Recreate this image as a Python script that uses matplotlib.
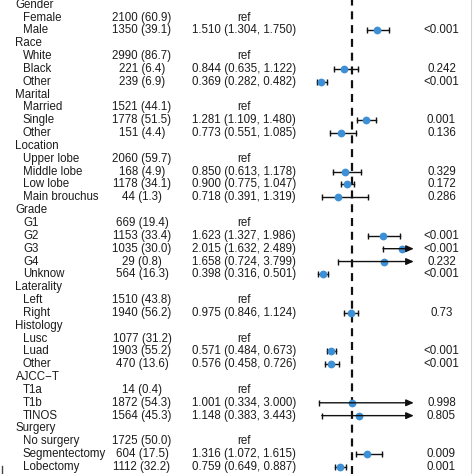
import numpy as np
import matplotlib
matplotlib.use("Agg")
import matplotlib.pyplot as plt
from matplotlib.lines import Line2D

plt.rcParams['font.family'] = ['Liberation Sans', 'DejaVu Sans']

# dane
labels = ["Gender", "Female", "Male",
          "Race", "White", "Black", "Other",
          "Marital", "Married", "Single", "Other",
          "Location", "Upper lobe", "Middle lobe", "Low lobe", "Main brouchus",
          "Grade", "G1", "G2", "G3", "G4", "Unknow",
          "Laterality", "Left", "Right",
          "Histology", "Lusc", "Luad", "Other",
          "AJCC\u2212T", "T1a", "T1b", "TINOS",
          "Surgery", "No surgery", "Segmentectomy", "Lobectomy"]
naglowki = [0, 3, 7, 11, 16, 22, 25, 29, 33]

counts = [None, 2100, 1350, None, 2990, 221, 239, None, 1521, 1778, 151,
          None, 2060, 168, 1178, 44, None, 669, 1153, 1035, 29, 564,
          None, 1510, 1940, None, 1077, 1903, 470, None, 14, 1872, 1564,
          None, 1725, 604, 1112]
pct = [None, 60.9, 39.1, None, 86.7, 6.4, 6.9, None, 44.1, 51.5, 4.4,
       None, 59.7, 4.9, 34.1, 1.3, None, 19.4, 33.4, 30.0, 0.8, 16.3,
       None, 43.8, 56.2, None, 31.2, 55.2, 13.6, None, 0.4, 54.3, 45.3,
       None, 50.0, 17.5, 32.2]

# "ref" = kategoria referencyjna
hr = [None, "ref", 1.510, None, "ref", 0.844, 0.369, None, "ref", 1.281, 0.773,
      None, "ref", 0.850, 0.900, 0.718, None, "ref", 1.623, 2.015, 1.658, 0.398,
      None, "ref", 0.975, None, "ref", 0.571, 0.576, None, "ref", 1.001, 1.148,
      None, "ref", 1.316, 0.759]
lo = [None, None, 1.304, None, None, 0.635, 0.282, None, None, 1.109, 0.551,
      None, None, 0.613, 0.775, 0.391, None, None, 1.327, 1.632, 0.724, 0.316,
      None, None, 0.846, None, None, 0.484, 0.458, None, None, 0.334, 0.383,
      None, None, 1.072, 0.649]
hi = [None, None, 1.750, None, None, 1.122, 0.482, None, None, 1.480, 1.085,
      None, None, 1.178, 1.047, 1.319, None, None, 1.986, 2.489, 3.799, 0.501,
      None, None, 1.124, None, None, 0.673, 0.726, None, None, 3.000, 3.443,
      None, None, 1.615, 0.887]
pval = [None, None, "<0.001", None, None, "0.242", "<0.001", None, None, "0.001", "0.136",
        None, None, "0.329", "0.172", "0.286", None, None, "<0.001", "<0.001", "0.232", "<0.001",
        None, None, "0.73", None, None, "<0.001", "<0.001", None, None, "0.998", "0.805",
        None, None, "0.009", "0.001"]

x_min, x_max = 0.25, 2.26
niebieski = '#3d8fd6'
tekst = '#1c1c1c'
fs = 8.3

W = 474
fig = plt.figure(figsize=(4.74, 4.74), dpi=100)
fig.patch.set_facecolor('white')
ylim = (36.545, -0.366)

ax = fig.add_axes([0, 0, 1, 1])
ax.set_xlim(0, W)
ax.set_ylim(*ylim)
ax.axis('off')

for i, lab in enumerate(labels):
    if i in naglowki:
        ax.text(15.5, i, lab, ha='left', va='center', fontsize=fs, color=tekst)
        continue
    ax.text(23, i, lab, ha='left', va='center', fontsize=fs, color=tekst)
    ax.text(142, i, "%d (%.1f)" % (counts[i], pct[i]), ha='center', va='center',
            fontsize=fs, color=tekst)
    if hr[i] == "ref":
        ax.text(244, i, "ref", ha='center', va='center', fontsize=fs, color=tekst)
    else:
        ax.text(244, i, "%.3f (%.3f, %.3f)" % (hr[i], lo[i], hi[i]), ha='center',
                va='center', fontsize=fs, color=tekst)
        ax.text(441.5, i, pval[i], ha='center', va='center', fontsize=fs, color=tekst)

# wykres lesny
px_jedn = 49.0
lewy = 352 - (1 - x_min) * px_jedn
prawy = 352 + (x_max - 1) * px_jedn
ax2 = fig.add_axes([lewy / W, 0, (prawy - lewy) / W, 1])
ax2.set_xlim(x_min, x_max)
ax2.set_ylim(*ylim)
ax2.axis('off')
ax2.patch.set_alpha(0)

ax2.axvline(1, color='#111111', lw=1.6, ls=(0, (3.6, 2.6)), zorder=1)

for i in range(len(labels)):
    if lo[i] is None:
        continue
    y = i
    if hi[i] > x_max:
        ax2.annotate('', xy=(x_max, y), xytext=(lo[i], y),
                     arrowprops=dict(arrowstyle='-|>,head_length=0.45,head_width=0.2',
                                     color='#111111', lw=1.0, shrinkA=0, shrinkB=0),
                     zorder=4, annotation_clip=False)
        ax2.plot([lo[i]], [y], marker='|', ms=4, mew=1.0, color='#111111', zorder=4)
        ax2.plot(hr[i], y, 'o', ms=5.6, color=niebieski, mec='none', zorder=3)
    else:
        ax2.plot([lo[i], hi[i]], [y, y], color='#111111', lw=1.0, zorder=2)
        ax2.plot([lo[i], hi[i]], [y, y], ls='none', marker='|', ms=4, mew=1.0,
                 color='#111111', zorder=2)
        ax2.plot(hr[i], y, 'o', ms=5.6, color=niebieski, mec='none', zorder=3)

# ramka po prawej i znaczek w lewym dolnym rogu
fig.add_artist(Line2D([471 / W, 471 / W], [0, 1], color='#d0d0d0', lw=0.8))
fig.add_artist(Line2D([1.5 / W, 1.5 / W], [0, 8 / W], color='#444444', lw=1.0))

plt.savefig('out.png', dpi=100, facecolor='white')
